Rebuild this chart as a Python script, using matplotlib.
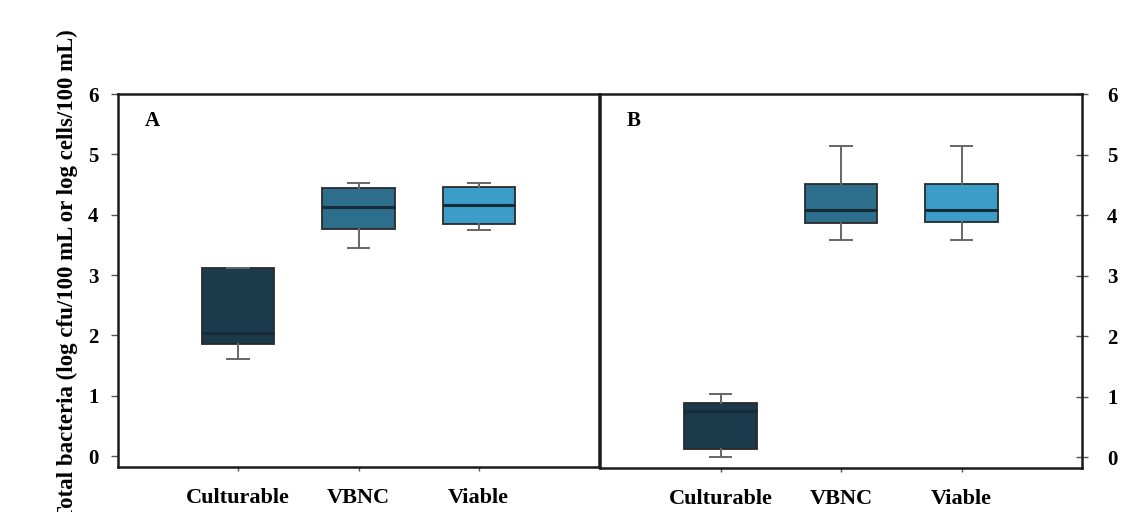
import matplotlib
matplotlib.use("Agg")
import matplotlib.pyplot as plt

# Categories and box-plot summaries (log cfu or log cells per 100 mL)
categories = ["Culturable", "VBNC", "Viable"]
box_colors = ["#1b3a4b", "#2d6e8c", "#3b9dc8"]

# Panel A
a_whislo = [1.61, 3.45, 3.75]
a_q1 = [1.85, 3.76, 3.85]
a_med = [2.04, 4.13, 4.16]
a_q3 = [3.12, 4.44, 4.46]
a_whishi = [3.12, 4.52, 4.52]

# Panel B
b_whislo = [0.00, 3.59, 3.59]
b_q1 = [0.14, 3.87, 3.88]
b_med = [0.77, 4.09, 4.09]
b_q3 = [0.90, 4.51, 4.51]
b_whishi = [1.04, 5.14, 5.14]

y_ticks = [0, 1, 2, 3, 4, 5, 6]

plt.rcParams["font.family"] = ["Liberation Serif", "DejaVu Serif"]
plt.rcParams["font.weight"] = "bold"

W, H = 1126, 512
fig = plt.figure(figsize=(W / 100, H / 100), dpi=100)


def px_axes(x0, x1, ytop, ybot):
    return fig.add_axes([x0 / W, (H - ybot) / H, (x1 - x0) / W, (ybot - ytop) / H])


def stats(wl, q1, md, q3, wh):
    return [dict(whislo=wl[i], q1=q1[i], med=md[i], q3=q3[i], whishi=wh[i],
                 label=categories[i], fliers=[]) for i in range(len(categories))]


def draw_panel(ax, st, letter):
    bp = ax.bxp(st, positions=[1, 2, 3], widths=0.6, patch_artist=True,
                showfliers=False, capwidths=0.18,
                boxprops=dict(linewidth=1.3, edgecolor="#2a2a2a"),
                medianprops=dict(color="#152b38", linewidth=2.2),
                whiskerprops=dict(color="#666666", linewidth=1.4),
                capprops=dict(color="#666666", linewidth=1.4))
    for patch, c in zip(bp["boxes"], box_colors):
        patch.set_facecolor(c)
    ax.set_xlim(0, 4)
    ax.set_ylim(-0.18, 6)
    ax.set_xticks([1, 2, 3])
    ax.set_xticklabels(categories, fontsize=16, fontweight="bold")
    ax.tick_params(axis="x", direction="out", length=3, width=1, pad=12,
                   color="#555555")
    ax.set_yticks(y_ticks)
    for s in ax.spines.values():
        s.set_linewidth(1.8)
        s.set_color("#1a1a1a")
    ax.text(0.055, 0.955, letter, transform=ax.transAxes, fontsize=15,
            fontweight="bold", va="top", ha="left")


axA = px_axes(118, 599, 94, 467)
draw_panel(axA, stats(a_whislo, a_q1, a_med, a_q3, a_whishi), "A")
axA.tick_params(axis="y", left=True, right=False, direction="out", length=5,
                width=1, pad=9, labelsize=15, color="#555555")
axA.set_yticklabels([str(t) for t in y_ticks], fontweight="bold")
axA.set_ylabel("Total bacteria (log cfu/100 mL or log cells/100 mL)",
               fontsize=16.5, fontweight="bold")
axA.yaxis.set_label_coords(-0.083, 0.515)

axB = px_axes(600, 1082, 94, 468)
draw_panel(axB, stats(b_whislo, b_q1, b_med, b_q3, b_whishi), "B")
axB.yaxis.tick_right()
axB.tick_params(axis="y", left=False, right=True, labelleft=False,
                labelright=True, direction="inout", length=8, width=1, pad=14,
                labelsize=15, color="#555555")
axB.set_yticklabels([str(t) for t in y_ticks], fontweight="bold")

fig.savefig("out.png", dpi=100, facecolor="white")
